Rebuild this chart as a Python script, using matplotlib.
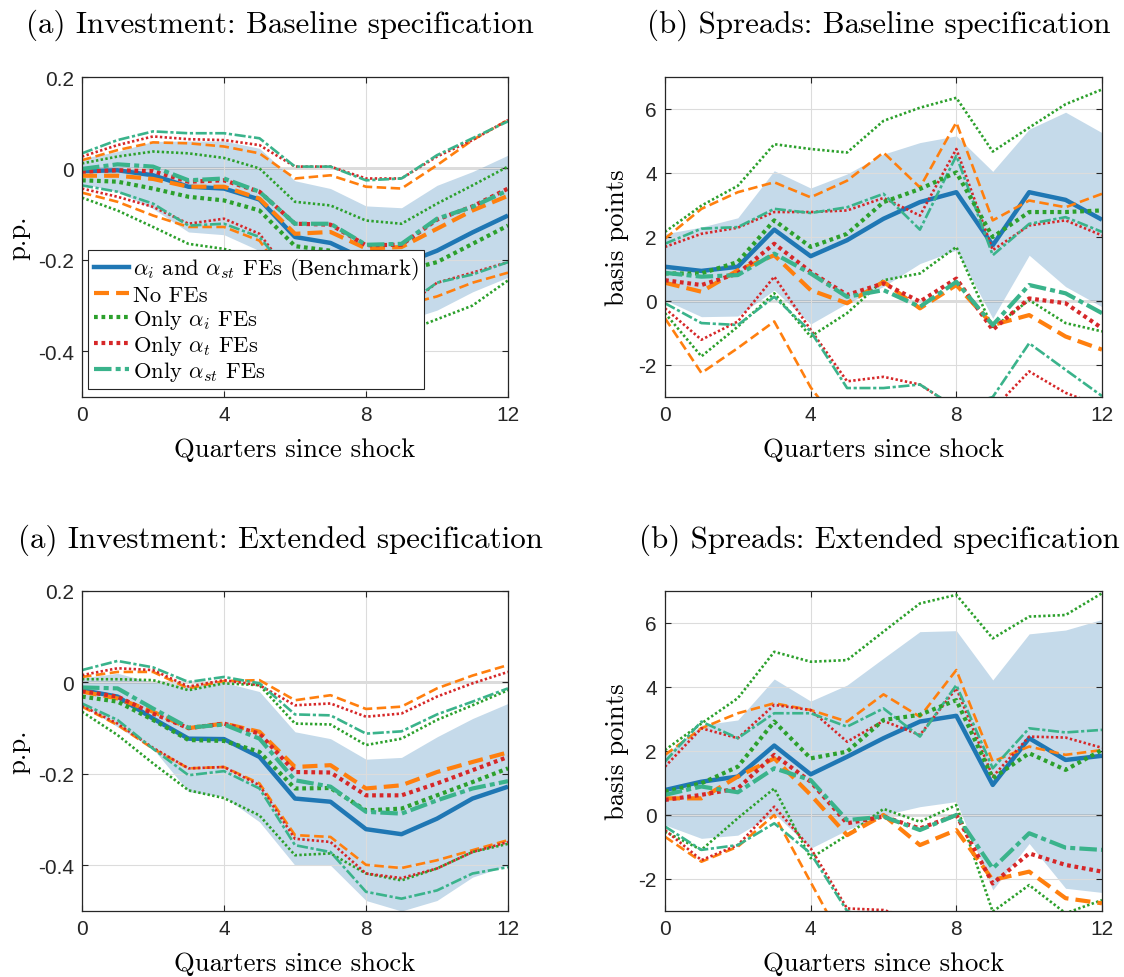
import matplotlib
matplotlib.use("Agg")
import matplotlib.pyplot as plt
from matplotlib.lines import Line2D

plt.rcParams['mathtext.fontset'] = 'cm'

quarters = list(range(13))

# ---------- (a) Investment: Baseline ----------
A_bench    = [-0.006, -0.004, -0.015, -0.040, -0.044, -0.068, -0.150, -0.163, -0.200, -0.210, -0.180, -0.140, -0.103]
A_bench_hi = [0.022, 0.037, 0.059, 0.060, 0.060, 0.044, -0.027, -0.044, -0.082, -0.086, -0.037, -0.007, 0.029]
A_bench_lo = [-0.033, -0.051, -0.088, -0.139, -0.145, -0.180, -0.280, -0.290, -0.320, -0.335, -0.310, -0.270, -0.238]
A_nofe     = [-0.016, -0.016, -0.023, -0.040, -0.040, -0.066, -0.143, -0.139, -0.175, -0.172, -0.132, -0.092, -0.060]
A_nofe_hi  = [0.018, 0.040, 0.057, 0.055, 0.048, 0.033, -0.022, -0.015, -0.040, -0.044, 0.007, 0.062, 0.106]
A_nofe_lo  = [-0.053, -0.073, -0.103, -0.128, -0.128, -0.158, -0.265, -0.263, -0.310, -0.300, -0.280, -0.250, -0.228]
A_onlyi    = [-0.026, -0.029, -0.044, -0.062, -0.070, -0.092, -0.170, -0.180, -0.220, -0.225, -0.205, -0.165, -0.125]
A_onlyi_hi = [0.011, 0.026, 0.037, 0.033, 0.023, 0.000, -0.073, -0.081, -0.114, -0.121, -0.077, -0.037, 0.004]
A_onlyi_lo = [-0.064, -0.092, -0.128, -0.165, -0.176, -0.198, -0.270, -0.280, -0.330, -0.360, -0.330, -0.300, -0.245]
A_onlyt    = [-0.007, -0.004, -0.006, -0.029, -0.026, -0.051, -0.121, -0.123, -0.168, -0.167, -0.112, -0.083, -0.044]
A_onlyt_hi = [0.026, 0.051, 0.070, 0.064, 0.062, 0.051, 0.004, 0.004, -0.022, -0.022, 0.026, 0.062, 0.106]
A_onlyt_lo = [-0.044, -0.062, -0.084, -0.121, -0.110, -0.143, -0.245, -0.250, -0.310, -0.310, -0.250, -0.228, -0.205]
A_onlyst    = [-0.001, 0.009, 0.004, -0.026, -0.022, -0.051, -0.121, -0.121, -0.167, -0.165, -0.110, -0.084, -0.048]
A_onlyst_hi = [0.033, 0.062, 0.081, 0.077, 0.077, 0.066, 0.004, 0.004, -0.026, -0.022, 0.029, 0.066, 0.103]
A_onlyst_lo = [-0.037, -0.051, -0.077, -0.125, -0.121, -0.150, -0.245, -0.245, -0.305, -0.305, -0.250, -0.232, -0.205]

# ---------- (b) Spreads: Baseline ----------
B_bench    = [1.07, 0.94, 1.07, 2.23, 1.40, 1.90, 2.57, 3.09, 3.40, 1.74, 3.40, 3.16, 2.54]
B_bench_hi = [2.10, 2.31, 2.60, 4.07, 3.53, 3.97, 4.59, 4.95, 5.16, 4.05, 5.37, 5.90, 5.26]
B_bench_lo = [0.03, -0.49, -0.47, 0.34, -0.72, -0.07, 0.45, 1.17, 1.59, -0.54, 1.43, 0.45, -0.18]
B_nofe     = [0.57, 0.29, 0.96, 1.43, 0.34, -0.07, 0.60, -0.23, 0.50, -0.75, -0.44, -1.11, -1.52]
B_nofe_hi  = [1.95, 2.88, 3.40, 3.71, 3.24, 3.76, 4.64, 3.55, 5.58, 2.52, 3.14, 2.93, 3.35]
B_nofe_lo  = [-0.54, -2.25, -1.47, -0.64, -2.70, -4.20, -3.44, -4.00, -4.58, -4.00, -4.00, -5.10, -6.40]
B_onlyi    = [0.86, 0.86, 1.22, 2.52, 1.69, 2.10, 3.09, 3.50, 4.02, 2.00, 2.78, 2.78, 2.83]
B_onlyi_hi = [2.16, 2.98, 3.60, 4.90, 4.75, 4.64, 5.63, 6.04, 6.35, 4.67, 5.42, 6.15, 6.61]
B_onlyi_lo = [-0.38, -1.73, -0.80, 0.24, -1.11, -0.38, 0.65, 0.86, 1.69, -0.85, 0.03, -0.69, -0.95]
B_onlyt    = [0.65, 0.50, 0.86, 1.79, 0.91, 0.19, 0.55, -0.02, 0.70, -0.90, 0.08, -0.07, -0.85]
B_onlyt_hi = [1.69, 2.10, 2.29, 2.78, 2.78, 2.83, 3.22, 2.67, 4.75, 1.59, 2.36, 2.52, 2.05]
B_onlyt_lo = [-0.23, -1.21, -0.64, 0.76, -0.90, -2.51, -2.37, -2.61, -3.35, -3.39, -2.20, -2.87, -3.30]
B_onlyst    = [0.88, 0.76, 0.81, 1.48, 0.86, 0.13, 0.34, -0.18, 0.60, -0.75, 0.50, 0.24, -0.38]
B_onlyst_hi = [1.79, 2.26, 2.31, 2.88, 2.75, 2.93, 3.35, 2.23, 4.54, 1.43, 2.41, 2.62, 2.16]
B_onlyst_lo = [-0.07, -0.69, -0.75, 0.13, -0.95, -2.72, -2.72, -2.61, -3.34, -3.00, -1.32, -2.15, -2.97]

# ---------- (a) Investment: Extended ----------
C_bench    = [-0.017, -0.031, -0.079, -0.123, -0.124, -0.163, -0.254, -0.261, -0.321, -0.332, -0.298, -0.254, -0.228]
C_bench_hi = [0.010, 0.020, 0.000, -0.005, 0.000, -0.020, -0.108, -0.123, -0.168, -0.164, -0.119, -0.079, -0.046]
C_bench_lo = [-0.050, -0.097, -0.145, -0.239, -0.250, -0.305, -0.400, -0.400, -0.477, -0.500, -0.477, -0.426, -0.400]
C_nofe     = [-0.020, -0.035, -0.064, -0.100, -0.090, -0.108, -0.185, -0.181, -0.232, -0.225, -0.196, -0.174, -0.153]
C_nofe_hi  = [0.012, 0.023, 0.023, -0.013, 0.003, 0.005, -0.039, -0.028, -0.058, -0.053, -0.013, 0.015, 0.038]
C_nofe_lo  = [-0.053, -0.093, -0.145, -0.188, -0.185, -0.221, -0.334, -0.338, -0.399, -0.406, -0.389, -0.367, -0.345]
C_onlyi    = [-0.031, -0.042, -0.082, -0.126, -0.128, -0.152, -0.232, -0.231, -0.280, -0.276, -0.247, -0.218, -0.188]
C_onlyi_hi = [0.007, 0.007, 0.005, -0.017, -0.002, -0.006, -0.090, -0.092, -0.137, -0.123, -0.082, -0.050, -0.017]
C_onlyi_lo = [-0.064, -0.115, -0.177, -0.236, -0.253, -0.291, -0.378, -0.374, -0.418, -0.433, -0.407, -0.371, -0.353]
C_onlyt    = [-0.019, -0.031, -0.068, -0.100, -0.090, -0.112, -0.196, -0.197, -0.247, -0.247, -0.221, -0.192, -0.163]
C_onlyt_hi = [0.016, 0.031, 0.027, -0.009, 0.005, -0.006, -0.050, -0.046, -0.075, -0.068, -0.031, -0.002, 0.023]
C_onlyt_lo = [-0.051, -0.090, -0.143, -0.188, -0.185, -0.225, -0.342, -0.349, -0.418, -0.428, -0.407, -0.371, -0.349]
C_onlyst    = [-0.011, -0.013, -0.057, -0.099, -0.092, -0.123, -0.214, -0.228, -0.283, -0.287, -0.258, -0.232, -0.216]
C_onlyst_hi = [0.027, 0.047, 0.033, 0.001, 0.012, -0.002, -0.070, -0.072, -0.112, -0.107, -0.070, -0.042, -0.013]
C_onlyst_lo = [-0.046, -0.082, -0.145, -0.203, -0.194, -0.232, -0.356, -0.371, -0.458, -0.473, -0.455, -0.418, -0.404]

# ---------- (b) Spreads: Extended ----------
D_bench    = [0.78, 1.04, 1.20, 2.17, 1.27, 1.82, 2.40, 2.92, 3.10, 0.94, 2.40, 1.72, 1.85]
D_bench_hi = [1.88, 2.81, 2.97, 4.25, 3.56, 4.06, 4.90, 5.73, 5.76, 4.22, 5.66, 5.78, 6.11]
D_bench_lo = [-0.31, -0.73, -0.63, 0.05, -1.04, -0.47, 0.00, 0.26, 0.42, -2.34, -0.89, -2.29, -2.42]
D_nofe     = [0.52, 0.52, 1.20, 1.77, 0.63, -0.63, 0.00, -0.94, -0.47, -2.03, -1.77, -2.60, -2.76]
D_nofe_hi  = [1.88, 2.71, 3.18, 3.49, 3.28, 2.92, 3.77, 3.07, 4.53, 1.67, 2.14, 1.88, 2.03]
D_nofe_lo  = [-0.68, -1.46, -0.99, 0.00, -2.10, -4.20, -3.80, -5.00, -5.50, -5.70, -5.70, -7.00, -7.50]
D_onlyi    = [0.73, 0.99, 1.51, 2.92, 1.77, 1.98, 2.97, 3.13, 3.59, 1.15, 1.93, 1.41, 2.03]
D_onlyi_hi = [2.03, 2.86, 3.65, 5.10, 4.79, 4.84, 5.73, 6.61, 6.88, 5.52, 6.20, 6.25, 6.93]
D_onlyi_lo = [-0.52, -1.09, -0.10, 0.83, -1.35, -0.63, 0.19, -0.21, 0.31, -3.02, -2.19, -3.07, -2.66]
D_onlyt    = [0.47, 0.63, 0.83, 1.88, 1.04, -0.26, -0.05, -0.42, 0.00, -2.14, -1.20, -1.56, -1.77]
D_onlyt_hi = [1.51, 2.71, 2.40, 3.44, 3.28, 2.29, 2.94, 2.50, 3.96, 1.20, 2.45, 2.42, 2.10]
D_onlyt_lo = [-0.47, -1.41, -0.94, 0.26, -1.04, -2.92, -2.97, -3.30, -3.96, -5.50, -4.85, -5.50, -5.60]
D_onlyst    = [0.63, 0.89, 0.71, 1.46, 1.09, -0.16, -0.05, -0.47, 0.00, -1.67, -0.57, -1.02, -1.09]
D_onlyst_hi = [1.67, 2.92, 2.40, 3.18, 3.18, 2.76, 3.33, 2.45, 4.06, 1.46, 2.71, 2.58, 2.66]
D_onlyst_lo = [-0.36, -1.09, -0.94, -0.26, -1.20, -3.00, -3.40, -3.40, -4.06, -4.80, -3.85, -4.60, -4.80]

titles = ["(a) Investment: Baseline specification", "(b) Spreads: Baseline specification",
          "(a) Investment: Extended specification", "(b) Spreads: Extended specification"]
ylabels = ["p.p.", "basis points", "p.p.", "basis points"]
xlabel = "Quarters since shock"
inv_ticks = [-0.4, -0.2, 0, 0.2]
inv_ticklabels = ["-0.4", "-0.2", "0", "0.2"]
spr_ticks = [-2, 0, 2, 4, 6]
spr_ticklabels = ["-2", "0", "2", "4", "6"]
x_ticks = [0, 4, 8, 12]
x_ticklabels = ["0", "4", "8", "12"]
legend_labels = [r"$\alpha_i$ and $\alpha_{st}$ FEs (Benchmark)", "No FEs",
                 r"Only $\alpha_i$ FEs", r"Only $\alpha_t$ FEs", r"Only $\alpha_{st}$ FEs"]

C_BLUE = '#1f77b4'
C_ORANGE = '#ff7f0e'
C_GREEN = '#2ca02c'
C_RED = '#d62728'
C_TEAL = '#3ab38b'
C_BAND = '#c5daea'

styles = {
    'nofe':   dict(color=C_ORANGE, dashes=(3.6, 1.7)),
    'onlyi':  dict(color=C_GREEN, dashes=(0.9, 0.9)),
    'onlyt':  dict(color=C_RED, dashes=(0.9, 0.9)),
    'onlyst': dict(color=C_TEAL, dashes=(4.2, 1.0, 1.2, 1.0)),
}

panels = [
    dict(bench=A_bench, lo=A_bench_lo, hi=A_bench_hi,
         specs=[('nofe', A_nofe, A_nofe_lo, A_nofe_hi), ('onlyi', A_onlyi, A_onlyi_lo, A_onlyi_hi),
                ('onlyt', A_onlyt, A_onlyt_lo, A_onlyt_hi), ('onlyst', A_onlyst, A_onlyst_lo, A_onlyst_hi)],
         ylim=(-0.5, 0.2), yt=inv_ticks, ytl=inv_ticklabels),
    dict(bench=B_bench, lo=B_bench_lo, hi=B_bench_hi,
         specs=[('nofe', B_nofe, B_nofe_lo, B_nofe_hi), ('onlyi', B_onlyi, B_onlyi_lo, B_onlyi_hi),
                ('onlyt', B_onlyt, B_onlyt_lo, B_onlyt_hi), ('onlyst', B_onlyst, B_onlyst_lo, B_onlyst_hi)],
         ylim=(-3, 7), yt=spr_ticks, ytl=spr_ticklabels),
    dict(bench=C_bench, lo=C_bench_lo, hi=C_bench_hi,
         specs=[('nofe', C_nofe, C_nofe_lo, C_nofe_hi), ('onlyi', C_onlyi, C_onlyi_lo, C_onlyi_hi),
                ('onlyt', C_onlyt, C_onlyt_lo, C_onlyt_hi), ('onlyst', C_onlyst, C_onlyst_lo, C_onlyst_hi)],
         ylim=(-0.5, 0.2), yt=inv_ticks, ytl=inv_ticklabels),
    dict(bench=D_bench, lo=D_bench_lo, hi=D_bench_hi,
         specs=[('nofe', D_nofe, D_nofe_lo, D_nofe_hi), ('onlyi', D_onlyi, D_onlyi_lo, D_onlyi_hi),
                ('onlyt', D_onlyt, D_onlyt_lo, D_onlyt_hi), ('onlyst', D_onlyst, D_onlyst_lo, D_onlyst_hi)],
         ylim=(-3, 7), yt=spr_ticks, ytl=spr_ticklabels),
]

W, H = 1124, 978
fig = plt.figure(figsize=(W / 100, H / 100), dpi=100)

# axes boxes in pixels: left, top, right, bottom
boxes = [(82, 78, 508, 398), (665, 78, 1102, 398), (82, 592, 508, 912), (665, 592, 1102, 912)]
title_pos = [(280, 25), (879, 25), (280, 540), (879, 540)]
ylabel_x = [18, 617, 18, 617]

SERIF = 'cmr10'
TICKFONT = 'Liberation Sans'
EST_LW = 3.0
CI_LW = 1.9

for i, (p, box) in enumerate(zip(panels, boxes)):
    l, t, r, b = box
    ax = fig.add_axes([l / W, 1 - b / H, (r - l) / W, (b - t) / H])
    ax.fill_between(quarters, p['lo'], p['hi'], color=C_BAND, lw=0, zorder=1)
    ax.axhline(0, color='#555555', lw=1.0, zorder=1.5)
    ax.plot(quarters, p['bench'], color=C_BLUE, lw=3.2, solid_capstyle='butt', zorder=3)
    for key, est, lo, hi in p['specs']:
        st = styles[key]
        for arr in (hi, lo):
            ax.plot(quarters, arr, color=st['color'], lw=CI_LW, dashes=st['dashes'],
                    dash_capstyle='butt', zorder=3)
        ax.plot(quarters, est, color=st['color'], lw=EST_LW, dashes=st['dashes'],
                dash_capstyle='butt', zorder=3.2)
    ax.set_xlim(0, 12)
    ax.set_ylim(*p['ylim'])
    ax.set_xticks(x_ticks)
    ax.set_xticklabels(x_ticklabels, fontfamily=TICKFONT, fontsize=15, color='#262626')
    ax.set_yticks(p['yt'])
    ax.set_yticklabels(p['ytl'], fontfamily=TICKFONT, fontsize=15, color='#262626')
    ax.tick_params(direction='in', length=4, width=0.8, top=True, right=True, colors='#262626', pad=6)
    ax.grid(True, color='#dcdcdc', lw=0.8)
    ax.set_axisbelow(False)
    for sp in ax.spines.values():
        sp.set_color('#262626')
        sp.set_linewidth(0.9)
        sp.set_zorder(5)
    # texts
    tx, ty = title_pos[i]
    fig.text(tx / W, 1 - ty / H, titles[i], fontfamily=SERIF, fontsize=22.3, ha='center', va='center')
    cx = (l + r) / 2
    fig.text(cx / W, 1 - (b + 52) / H, xlabel, fontfamily=SERIF, fontsize=19.2, ha='center', va='center')
    fig.text(ylabel_x[i] / W, 1 - ((t + b) / 2) / H, ylabels[i], fontfamily=SERIF, fontsize=19.2,
             ha='center', va='center', rotation=90)

    if i == 0:
        handles = [Line2D([0], [0], color=C_BLUE, lw=3.2)]
        for key in ['nofe', 'onlyi', 'onlyt', 'onlyst']:
            st = styles[key]
            handles.append(Line2D([0], [0], color=st['color'], lw=EST_LW, dashes=st['dashes'],
                                  dash_capstyle='butt'))
        leg = ax.legend(handles, legend_labels, loc='lower left', bbox_to_anchor=(0.014, 0.025),
                        borderaxespad=0, prop={'family': SERIF, 'size': 16.3}, frameon=True,
                        fancybox=False, framealpha=1, edgecolor='#262626', handlelength=1.55,
                        handletextpad=0.2, labelspacing=0.1, borderpad=0.25)
        leg.get_frame().set_linewidth(0.8)
        leg.set_zorder(10)

fig.savefig('out.png', dpi=100)
